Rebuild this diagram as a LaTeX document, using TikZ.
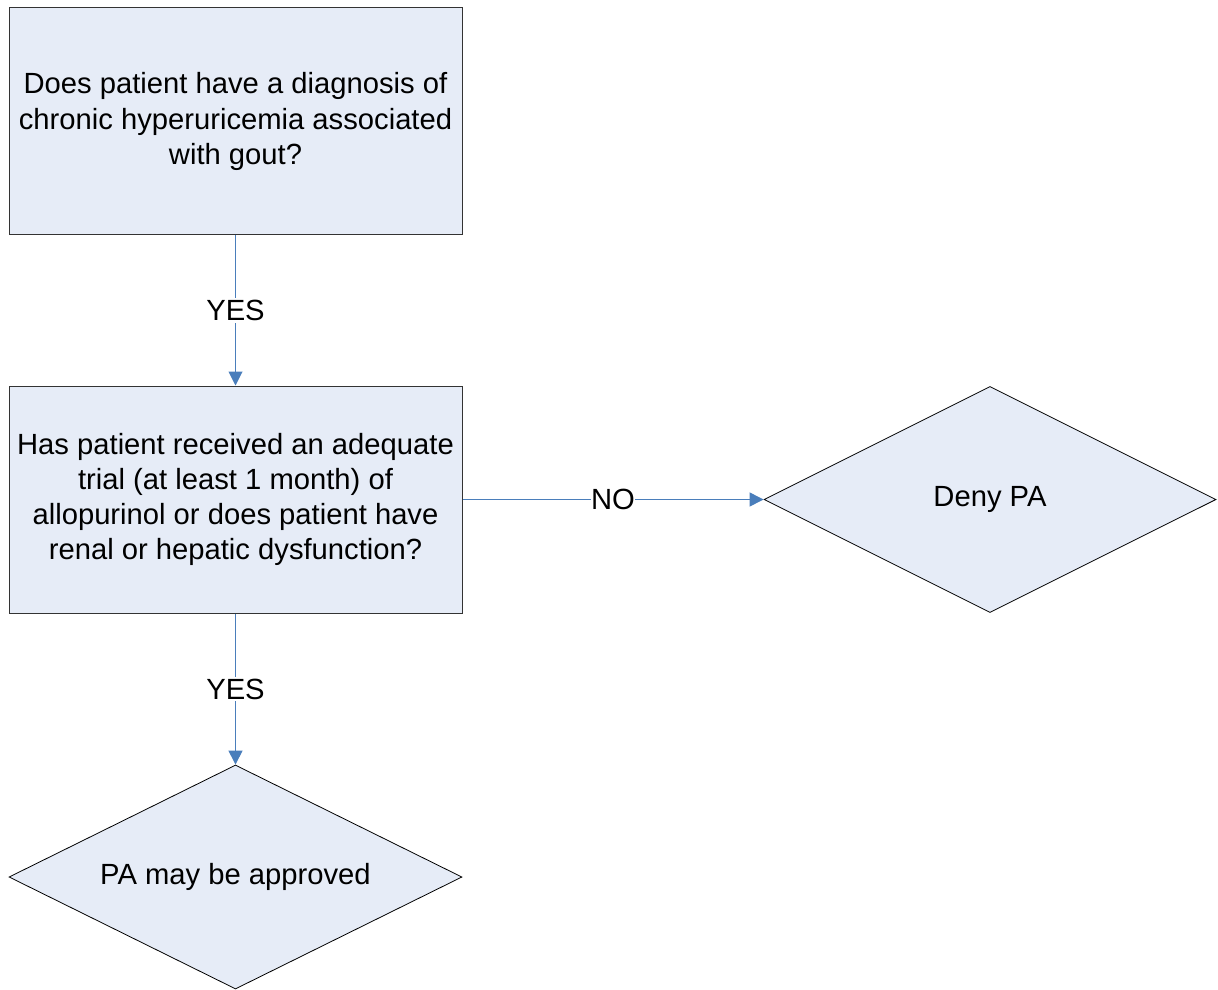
\documentclass[tikz,border=0pt]{standalone}
\usepackage{fontspec}
\setmainfont{Liberation Sans}
\usetikzlibrary{arrows.meta,shapes.geometric}

\definecolor{boxfill}{HTML}{E6ECF7}
\definecolor{flowblue}{HTML}{4A7EBB}

\begin{document}
\begin{tikzpicture}[x=0.5pt, y=-0.5pt,
	font=\fontsize{14.6pt}{17.6pt}\selectfont,
	question/.style={draw=black!80, fill=boxfill, line width=0.5pt, rectangle, align=center, minimum width=226.5pt, minimum height=113.5pt, inner sep=0pt},
	outcome/.style={draw=black, fill=boxfill, line width=0.4pt, diamond, aspect=2, align=center, inner sep=0pt},
	flow/.style={draw=flowblue, line width=0.5pt, arrows={-Triangle[length=7pt,width=7pt]}},
	answer/.style={fill=white, inner sep=1pt, text=black}]
	\useasboundingbox (0,0) rectangle (1218,989);

	\node [question] (Q1) at (235.5,121.5) {Does patient have a diagnosis of\\chronic hyperuricemia associated\\with gout?};
	\node [question] (Q2) at (235.5,499.5) {Has patient received an adequate\\trial (at least 1 month) of\\allopurinol or does patient have\\renal or hepatic dysfunction?};
	\node [outcome, minimum width=226pt, minimum height=113pt] (Deny) at (990,499.5) {Deny PA};
	\node [outcome, minimum width=226.5pt, minimum height=112pt] (Approve) at (235.5,877) {PA may be approved};

	\draw [flow] (Q1) to node [answer] {YES} (Q2);
	\draw [flow] (Q2) to node [answer, inner sep=0pt] {NO} (Deny);
	\draw [flow] (Q2) to node [answer] {YES} (Approve);
\end{tikzpicture}
\end{document}
